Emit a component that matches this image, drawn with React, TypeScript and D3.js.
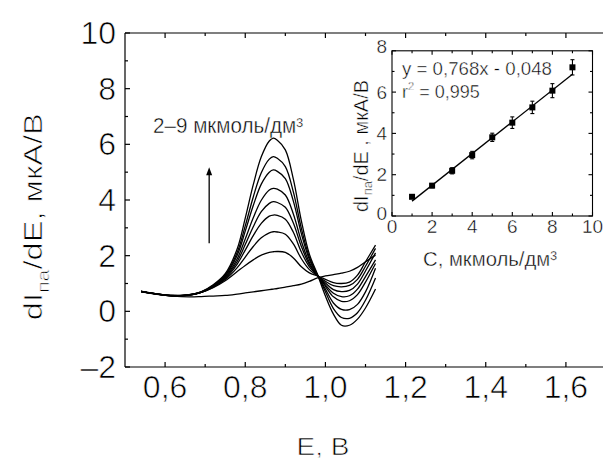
import React from "react";
import * as d3 from "d3";

// ---------- Main plot data ----------
const E_GRID = [0.54, 0.58, 0.62, 0.66, 0.69, 0.72, 0.75, 0.78, 0.80, 0.82, 0.84, 0.86, 0.87, 0.88, 0.90, 0.92, 0.94, 0.96, 0.98, 1.00, 1.02, 1.04, 1.06, 1.08, 1.10, 1.125];

const CURVE_BLANK = [0.72, 0.62, 0.55, 0.52, 0.53, 0.55, 0.57, 0.62, 0.66, 0.70, 0.74, 0.78, 0.80, 0.82, 0.87, 0.92, 0.98, 1.08, 1.20, 1.27, 1.32, 1.37, 1.44, 1.58, 1.78, 2.02];
const CURVE_2 = [0.72, 0.62, 0.56, 0.58, 0.68, 0.85, 1.10, 1.43, 1.65, 1.85, 2.02, 2.12, 2.14, 2.15, 2.12, 1.92, 1.60, 1.38, 1.27, 1.15, 1.03, 1.00, 1.05, 1.30, 1.78, 2.38];
const CURVE_3 = [0.71, 0.62, 0.57, 0.58, 0.68, 0.87, 1.14, 1.57, 1.95, 2.33, 2.64, 2.82, 2.86, 2.85, 2.77, 2.42, 1.89, 1.50, 1.28, 1.08, 0.92, 0.88, 0.93, 1.15, 1.62, 2.26];
const CURVE_4 = [0.72, 0.63, 0.56, 0.58, 0.68, 0.88, 1.18, 1.70, 2.20, 2.72, 3.16, 3.42, 3.46, 3.45, 3.31, 2.84, 2.13, 1.60, 1.29, 1.02, 0.78, 0.71, 0.75, 0.98, 1.45, 2.10];
const CURVE_5 = [0.70, 0.62, 0.57, 0.58, 0.68, 0.89, 1.21, 1.79, 2.40, 3.04, 3.58, 3.88, 3.94, 3.91, 3.74, 3.17, 2.33, 1.68, 1.30, 0.95, 0.65, 0.53, 0.56, 0.80, 1.25, 1.85];
const CURVE_6 = [0.72, 0.61, 0.56, 0.59, 0.69, 0.91, 1.24, 1.89, 2.60, 3.36, 3.99, 4.36, 4.42, 4.39, 4.18, 3.50, 2.52, 1.75, 1.30, 0.90, 0.52, 0.36, 0.38, 0.60, 1.05, 1.72];
const CURVE_7 = [0.73, 0.63, 0.57, 0.59, 0.69, 0.92, 1.28, 2.02, 2.88, 3.80, 4.57, 5.00, 5.08, 5.03, 4.77, 3.96, 2.79, 1.86, 1.31, 0.80, 0.30, 0.07, 0.06, 0.25, 0.70, 1.55];
const CURVE_8 = [0.71, 0.62, 0.56, 0.60, 0.70, 0.93, 1.31, 2.12, 3.07, 4.11, 4.98, 5.47, 5.56, 5.50, 5.20, 4.29, 2.98, 1.94, 1.32, 0.70, 0.10, -0.22, -0.25, -0.05, 0.40, 1.20];
const CURVE_9 = [0.72, 0.62, 0.56, 0.60, 0.70, 0.95, 1.35, 2.25, 3.35, 4.55, 5.55, 6.12, 6.22, 6.15, 5.80, 4.75, 3.25, 2.05, 1.33, 0.55, -0.10, -0.50, -0.50, -0.28, 0.12, 0.80];
const CURVES = [CURVE_BLANK, CURVE_2, CURVE_3, CURVE_4, CURVE_5, CURVE_6, CURVE_7, CURVE_8, CURVE_9];

const X_TICKS = [0.6, 0.8, 1.0, 1.2, 1.4, 1.6];
const X_MINOR = [0.7, 0.9, 1.1, 1.3, 1.5];
const Y_TICKS = [-2, 0, 2, 4, 6, 8, 10];
const Y_MINOR = [-1, 1, 3, 5, 7, 9];

// arrow & annotation (data coords)
const ARROW_E = 0.71;
const ARROW_FROM = 2.45;
const ARROW_TO = 5.18;
const NOTE_E = 0.57;
const NOTE_V = 6.4;

// ---------- Inset data ----------
const CONC = [1, 2, 3, 4, 5, 6, 7, 8, 9];
const RESP = [0.93, 1.47, 2.19, 2.95, 3.81, 4.52, 5.26, 6.07, 7.2];
const ERR = [0.08, 0.1, 0.15, 0.18, 0.2, 0.28, 0.3, 0.34, 0.37];
const FIT_SLOPE = 0.768;
const FIT_INTERCEPT = -0.048;
const FIT_RANGE = [1, 9];
const IN_X_TICKS = [0, 2, 4, 6, 8, 10];
const IN_X_MINOR = [1, 3, 5, 7, 9];
const IN_Y_TICKS = [0, 2, 4, 6, 8];
const IN_Y_MINOR = [1, 3, 5, 7];

const FONT = "'Liberation Sans', Arial, Helvetica, sans-serif";
// thin the glyphs slightly with a white outline painted over the fill
const THIN = { stroke: "#fff", strokeWidth: 0.7, paintOrder: "fill" } as any;
const THIN_S = { stroke: "#fff", strokeWidth: 0.45, paintOrder: "fill" } as any;

export default function App() {
  const W = 603, H = 459;
  const x = d3.scaleLinear().domain([0.5, 1.7]).range([125, 606]);
  const y = d3.scaleLinear().domain([-2, 10]).range([367, 33]);
  const xi = d3.scaleLinear().domain([0, 10]).range([392, 592.5]);
  const yi = d3.scaleLinear().domain([0, 8]).range([216, 50.8]);

  const line = d3
    .line<number>()
    .x((_, i) => x(E_GRID[i]))
    .y((d) => y(d))
    .curve(d3.curveCatmullRom.alpha(0.5));

  const fmtX = (v: number) => d3.format(".1f")(v).replace(".", ",");
  const fmtY = (v: number) => String(v).replace("-", "–");

  const [x0, x1] = x.range();
  const [yb, yt] = y.range();
  const stroke = "#000";

  const fitLine = d3
    .line<number>()
    .x((c) => xi(c))
    .y((c) => yi(FIT_SLOPE * c + FIT_INTERCEPT));

  return (
    <svg
      width={W}
      height={H}
      style={{ position: "fixed", left: 0, top: 0, background: "#fff" }}
      fontFamily={FONT}
    >
      <rect x={0} y={0} width={W} height={H} fill="#fff" />
      {/* Main frame */}
      <g stroke={stroke} strokeWidth={1.2} fill="none">
        <line x1={x0} x2={x1} y1={yb} y2={yb} />
        <line x1={x0} x2={x1} y1={yt} y2={yt} />
        <line x1={x0} x2={x0} y1={yt} y2={yb} />
        {X_TICKS.map((t) => (
          <g key={"xt" + t}>
            <line x1={x(t)} x2={x(t)} y1={yb} y2={yb - 5} />
            <line x1={x(t)} x2={x(t)} y1={yt} y2={yt + 5} />
          </g>
        ))}
        {X_MINOR.map((t) => (
          <g key={"xm" + t}>
            <line x1={x(t)} x2={x(t)} y1={yb} y2={yb - 3} />
            <line x1={x(t)} x2={x(t)} y1={yt} y2={yt + 3} />
          </g>
        ))}
        {Y_TICKS.map((t) => (
          <line key={"yt" + t} x1={x0} x2={x0 + 5} y1={y(t)} y2={y(t)} />
        ))}
        {Y_MINOR.map((t) => (
          <line key={"ym" + t} x1={x0} x2={x0 + 3} y1={y(t)} y2={y(t)} />
        ))}
      </g>
      {/* Main tick labels */}
      <g fontSize={32} fill="#000" {...THIN}>
        {X_TICKS.map((t) => (
          <text key={"xl" + t} x={x(t)} y={398} textAnchor="middle">
            {fmtX(t)}
          </text>
        ))}
        {Y_TICKS.map((t) => (
          <text key={"yl" + t} x={116} y={y(t)} textAnchor="end" dominantBaseline="central">
            {fmtY(t)}
          </text>
        ))}
      </g>
      {/* Axis titles */}
      <text x={323} y={455} fontSize={24} textAnchor="middle" textLength={53} lengthAdjust="spacingAndGlyphs" {...THIN}>
        E, B
      </text>
      <text
        transform="translate(42,216.7) rotate(-90)"
        fontSize={26}
        textAnchor="middle"
        textLength={207}
        lengthAdjust="spacingAndGlyphs"
        {...THIN}
      >
        dI
        <tspan fontSize={17} dy={7}>па</tspan>
        <tspan dy={-7}>/dE, мкА/В</tspan>
      </text>

      {/* Curves */}
      <g fill="none" stroke={stroke} strokeWidth={1.3} strokeLinejoin="round">
        {CURVES.map((c, i) => (
          <path key={"c" + i} d={line(c) || ""} />
        ))}
      </g>

      {/* Arrow */}
      <line
        x1={x(ARROW_E)}
        x2={x(ARROW_E)}
        y1={y(ARROW_FROM)}
        y2={y(ARROW_TO) + 6}
        stroke={stroke}
        strokeWidth={1.3}
      />
      <path
        d={`M${x(ARROW_E)},${y(ARROW_TO)} L${x(ARROW_E) - 3},${y(ARROW_TO) + 8} L${x(ARROW_E) + 3},${y(ARROW_TO) + 8} Z`}
        fill={stroke}
      />
      <text x={x(NOTE_E)} y={y(NOTE_V)} fontSize={22} textLength={150} lengthAdjust="spacingAndGlyphs" {...THIN_S}>
        2–9 мкмоль/дм³
      </text>

      {/* Inset */}
      <g stroke={stroke} strokeWidth={1.1} fill="none">
        <rect x={xi(0)} y={yi(8)} width={xi(10) - xi(0)} height={yi(0) - yi(8)} />
        {IN_X_TICKS.map((t) => (
          <g key={"ixt" + t}>
            <line x1={xi(t)} x2={xi(t)} y1={yi(0)} y2={yi(0) - 4} />
            <line x1={xi(t)} x2={xi(t)} y1={yi(8)} y2={yi(8) + 4} />
          </g>
        ))}
        {IN_X_MINOR.map((t) => (
          <g key={"ixm" + t}>
            <line x1={xi(t)} x2={xi(t)} y1={yi(0)} y2={yi(0) - 2.5} />
            <line x1={xi(t)} x2={xi(t)} y1={yi(8)} y2={yi(8) + 2.5} />
          </g>
        ))}
        {IN_Y_TICKS.map((t) => (
          <g key={"iyt" + t}>
            <line x1={xi(0)} x2={xi(0) + 4} y1={yi(t)} y2={yi(t)} />
            <line x1={xi(10)} x2={xi(10) - 4} y1={yi(t)} y2={yi(t)} />
          </g>
        ))}
        {IN_Y_MINOR.map((t) => (
          <g key={"iym" + t}>
            <line x1={xi(0)} x2={xi(0) + 2.5} y1={yi(t)} y2={yi(t)} />
            <line x1={xi(10)} x2={xi(10) - 2.5} y1={yi(t)} y2={yi(t)} />
          </g>
        ))}
        <path d={fitLine(FIT_RANGE) || ""} strokeWidth={1.3} />
        {CONC.map((c, i) => (
          <g key={"eb" + i}>
            <line x1={xi(c)} x2={xi(c)} y1={yi(RESP[i] - ERR[i])} y2={yi(RESP[i] + ERR[i])} />
            <line x1={xi(c) - 2} x2={xi(c) + 2} y1={yi(RESP[i] - ERR[i])} y2={yi(RESP[i] - ERR[i])} />
            <line x1={xi(c) - 2} x2={xi(c) + 2} y1={yi(RESP[i] + ERR[i])} y2={yi(RESP[i] + ERR[i])} />
          </g>
        ))}
      </g>
      {CONC.map((c, i) => (
        <rect key={"pt" + i} x={xi(c) - 3} y={yi(RESP[i]) - 3} width={6} height={6} fill={stroke} />
      ))}
      <g fontSize={19} fill="#000" {...THIN_S}>
        {IN_X_TICKS.map((t) => (
          <text key={"ixl" + t} x={xi(t)} y={233} textAnchor="middle">
            {t}
          </text>
        ))}
        {IN_Y_TICKS.map((t) => (
          <text key={"iyl" + t} x={387} y={yi(t) - (t === 8 ? 4 : t === 0 ? 3 : 0)} textAnchor="end" dominantBaseline="central">
            {t}
          </text>
        ))}
      </g>
      <text x={423} y={266} fontSize={21} textLength={134} lengthAdjust="spacingAndGlyphs" {...THIN_S}>
        С, мкмоль/дм³
      </text>
      <text
        transform="translate(368,146) rotate(-90)"
        fontSize={20}
        textAnchor="middle"
        textLength={132}
        lengthAdjust="spacingAndGlyphs"
        {...THIN_S}
      >
        dI
        <tspan fontSize={13} dy={4}>па</tspan>
        <tspan dy={-4}>/dE , мкА/В</tspan>
      </text>
      <text x={402} y={75} fontSize={18} textLength={150} lengthAdjust="spacingAndGlyphs" {...THIN_S}>
        y = 0,768x - 0,048
      </text>
      <text x={402} y={98} fontSize={18} {...THIN_S}>
        r
        <tspan fontSize={11} dy={-8}>2</tspan>
        <tspan dy={8}> = 0,995</tspan>
      </text>
    </svg>
  );
}
